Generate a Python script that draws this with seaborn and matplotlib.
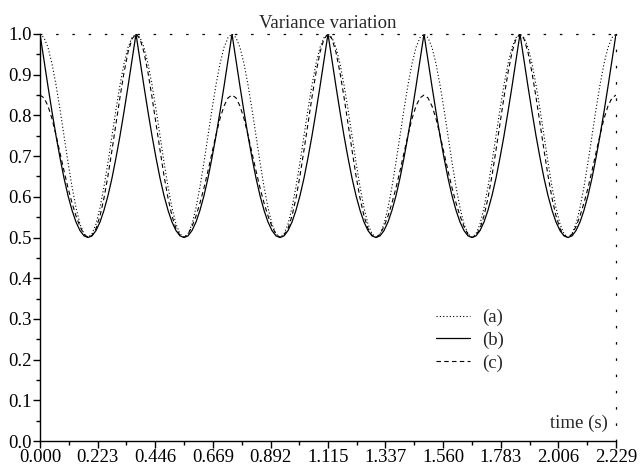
import numpy as np
import pandas as pd
import matplotlib
matplotlib.use("Agg")
import matplotlib.pyplot as plt
import seaborn as sns
from matplotlib.ticker import MultipleLocator, FixedLocator

# values, one period each (curves repeat)
a_period = [1.000, 0.991, 0.967, 0.927, 0.875, 0.815, 0.750, 0.685, 0.625, 0.573, 0.533, 0.509,
            0.500, 0.509, 0.533, 0.573, 0.625, 0.685, 0.750, 0.815, 0.875, 0.927, 0.967, 0.991]
b_period = [1.000, 0.935, 0.871, 0.809, 0.750, 0.696, 0.646, 0.603, 0.567, 0.538, 0.517, 0.504,
            0.500, 0.504, 0.517, 0.538, 0.567, 0.603, 0.646, 0.696, 0.750, 0.809, 0.871, 0.935]
# (c) repeats every two periods: low peak 0.85, then full peak 1.0
c_period = [0.850, 0.843, 0.823, 0.792, 0.752, 0.708, 0.664, 0.622, 0.585, 0.553, 0.527, 0.508,
            0.500, 0.505, 0.522, 0.553, 0.597, 0.652, 0.715, 0.780, 0.845, 0.905, 0.955, 0.988,
            1.000, 0.988, 0.955, 0.905, 0.845, 0.780, 0.715, 0.652, 0.597, 0.553, 0.522, 0.505,
            0.500, 0.508, 0.527, 0.553, 0.585, 0.622, 0.664, 0.708, 0.752, 0.792, 0.823, 0.843]

t_max = 2.229
n_periods = 6
xtick_vals = [0.000, 0.223, 0.446, 0.669, 0.892, 1.115, 1.337, 1.560, 1.783, 2.006, 2.229]
xtick_labels = ["0.000", "0.223", "0.446", "0.669", "0.892", "1.115", "1.337",
                "1.560", "1.783", "2.006", "2.229"]

a_vals = np.append(np.tile(a_period, n_periods), a_period[0])
b_vals = np.append(np.tile(b_period, n_periods), b_period[0])
c_vals = np.append(np.tile(c_period, n_periods // 2), c_period[0])
time = np.linspace(0, t_max, len(a_vals))

df = pd.DataFrame({"time": time, "a": a_vals, "b": b_vals, "c": c_vals})

sns.set_theme(style="ticks")
plt.rcParams["font.family"] = ["Liberation Serif", "DejaVu Serif"]
fs = 13.5

fig = plt.figure(figsize=(6.42, 4.71), dpi=100)
ax = fig.add_axes([40 / 642, 1 - 441 / 471, 576 / 642, 407 / 471])

sns.lineplot(data=df, x="time", y="a", ax=ax, color="black", lw=0.8,
             linestyle=(0, (1, 2)), label="(a)")
sns.lineplot(data=df, x="time", y="b", ax=ax, color="black", lw=0.9,
             linestyle="-", label="(b)")
sns.lineplot(data=df, x="time", y="c", ax=ax, color="black", lw=0.8,
             linestyle=(0, (4, 3)), label="(c)")

ax.set_xlim(0, t_max)
ax.set_ylim(0, 1.0)
ax.xaxis.set_major_locator(FixedLocator(xtick_vals))
ax.set_xticklabels(xtick_labels)
ax.xaxis.set_minor_locator(FixedLocator([v + 0.1115 for v in xtick_vals[:-1]]))
ax.yaxis.set_minor_locator(MultipleLocator(0.05))
ax.set_yticks(np.arange(0, 1.01, 0.1))
ax.set_yticklabels([f"{v:.1f}" for v in np.arange(0, 1.01, 0.1)])

ax.tick_params(which="major", direction="out", length=5, width=1.0, labelsize=fs,
               color="black", labelcolor="black", pad=1)
ax.tick_params(which="minor", direction="out", length=3, width=1.0, color="black")
ax.tick_params(top=False, right=False)

for side in ["left", "bottom"]:
    ax.spines[side].set_color("black")
    ax.spines[side].set_linewidth(1.0)
for side in ["top", "right"]:
    ax.spines[side].set_visible(True)
    ax.spines[side].set_color("black")
    ax.spines[side].set_linewidth(0.9)
    ax.spines[side].set_linestyle((0, (1, 12)))

ax.set_title("Variance variation", fontsize=fs, pad=4)
ax.set_xlabel("time (s)", fontsize=fs)
ax.xaxis.set_label_coords(0.986, 0.022)
ax.xaxis.label.set_horizontalalignment("right")
ax.xaxis.label.set_verticalalignment("bottom")
ax.set_ylabel("")

ax.legend(loc="upper left", bbox_to_anchor=(0.672, 0.347), frameon=False,
          fontsize=fs, handlelength=1.8, handletextpad=0.65, labelspacing=0.28,
          borderpad=0)

fig.savefig("out.png", dpi=100)
